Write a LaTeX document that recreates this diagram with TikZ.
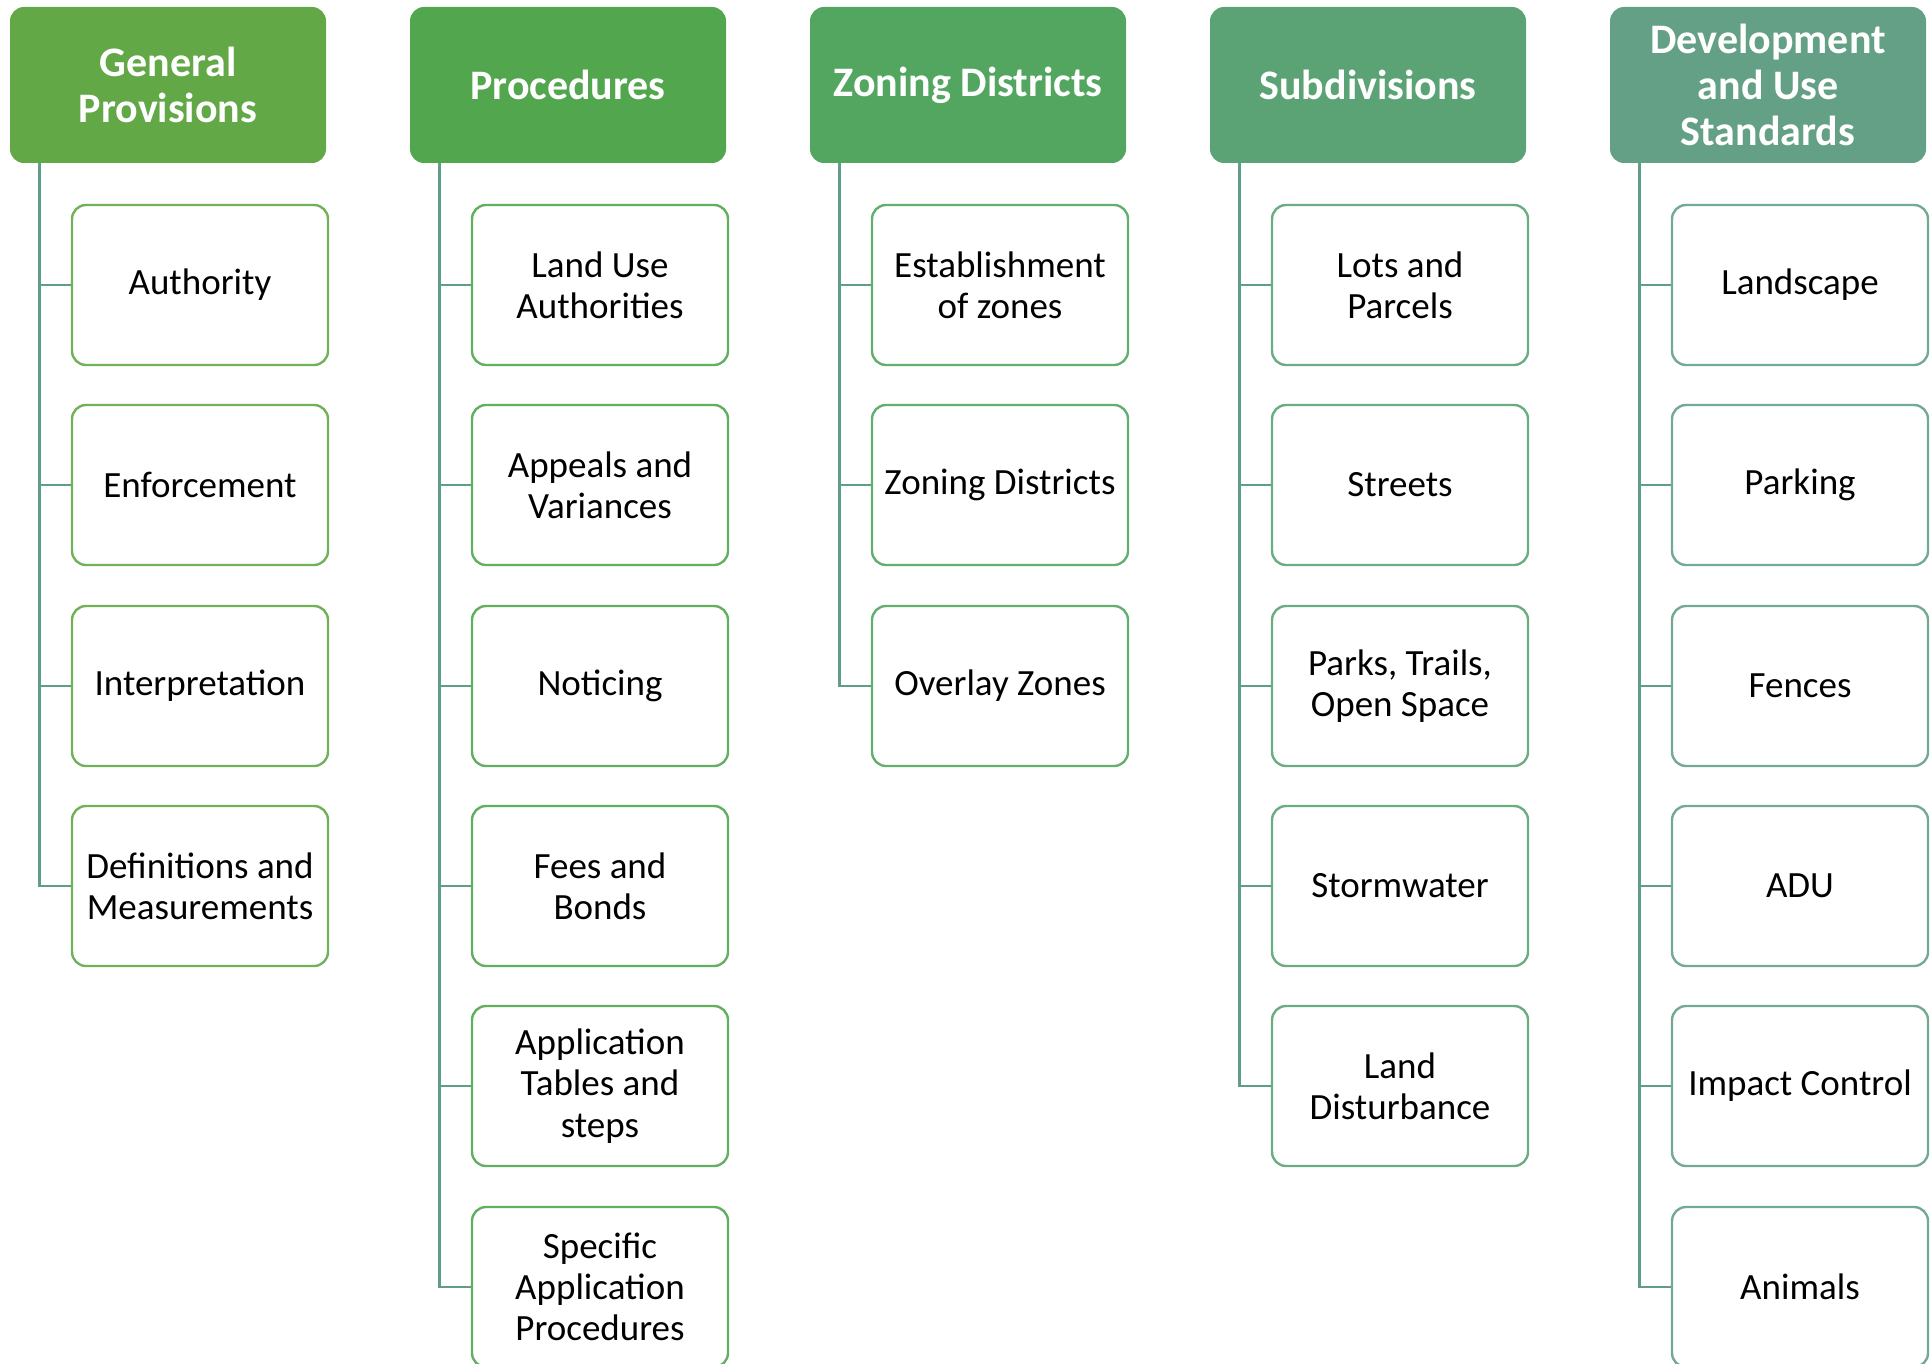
\documentclass[tikz,border=0pt]{standalone}
\usepackage{fontspec}
\setmainfont{Carlito}
\usetikzlibrary{positioning}
\definecolor{hijauA}{RGB}{98,168,70}
\definecolor{hijauB}{RGB}{82,166,78}
\definecolor{hijauC}{RGB}{83,166,96}
\definecolor{hijauD}{RGB}{91,163,116}
\definecolor{hijauE}{RGB}{99,160,133}
\definecolor{garis}{RGB}{94,158,136}

\begin{document}
\begin{tikzpicture}[x=0.5pt, y=-0.5pt,
        head/.style={rectangle, rounded corners=7pt, fill=#1, text=white,
                    minimum width=158pt, minimum height=78pt, align=center, inner sep=2pt,
                    font=\fontsize{21}{23}\selectfont\bfseries},
        item/.style={rectangle, rounded corners=7pt, draw=#1!90, line width=1.2pt, fill=white,
                    minimum width=128pt, minimum height=80pt, align=center, inner sep=2pt,
                    font=\fontsize{18.5}{20.6}\selectfont},
        link/.style={draw=garis, line width=1.3pt}
    ]
        \useasboundingbox (0,0) rectangle (1931,1364);

        % kolom 1
        \node[head=hijauA] (gp) at (168,85) {General\\Provisions};
        \node[item=hijauA] (gp1) at (200,285) {Authority};
        \node[item=hijauA] (gp2) at (200,485) {Enforcement};
        \node[item=hijauA] (gp3) at (200,686) {Interpretation};
        \node[item=hijauA] (gp4) at (200,886) {Definitions and\\Measurements};

        % kolom 2
        \node[head=hijauB] (pr) at (568,85) {Procedures};
        \node[item=hijauB] (pr1) at (600,285) {Land Use\\Authorities};
        \node[item=hijauB] (pr2) at (600,485) {Appeals and\\Variances};
        \node[item=hijauB] (pr3) at (600,686) {Noticing};
        \node[item=hijauB] (pr4) at (600,886) {Fees and\\Bonds};
        \node[item=hijauB] (pr5) at (600,1086) {Application\\Tables and\\steps};
        \node[item=hijauB] (pr6) at (600,1287) {Specific\\Application\\Procedures};

        % kolom 3
        \node[head=hijauC] (zd) at (968,85) {Zoning Districts};
        \node[item=hijauC] (zd1) at (1000,285) {Establishment\\of zones};
        \node[item=hijauC] (zd2) at (1000,485) {Zoning Districts};
        \node[item=hijauC] (zd3) at (1000,686) {Overlay Zones};

        % kolom 4
        \node[head=hijauD] (sd) at (1368,85) {Subdivisions};
        \node[item=hijauD] (sd1) at (1400,285) {Lots and\\Parcels};
        \node[item=hijauD] (sd2) at (1400,485) {Streets};
        \node[item=hijauD] (sd3) at (1400,686) {Parks, Trails,\\Open Space};
        \node[item=hijauD] (sd4) at (1400,886) {Stormwater};
        \node[item=hijauD] (sd5) at (1400,1086) {Land\\Disturbance};

        % kolom 5
        \node[head=hijauE] (du) at (1768,85) {Development\\and Use\\Standards};
        \node[item=hijauE] (du1) at (1800,285) {Landscape};
        \node[item=hijauE] (du2) at (1800,485) {Parking};
        \node[item=hijauE] (du3) at (1800,686) {Fences};
        \node[item=hijauE] (du4) at (1800,886) {ADU};
        \node[item=hijauE] (du5) at (1800,1086) {Impact Control};
        \node[item=hijauE] (du6) at (1800,1287) {Animals};

        % garis penghubung
        \foreach \i in {1,...,4} \draw[link] ([xshift=15pt]gp.south west) |- (gp\i.west);
        \foreach \i in {1,...,6} \draw[link] ([xshift=15pt]pr.south west) |- (pr\i.west);
        \foreach \i in {1,...,3} \draw[link] ([xshift=15pt]zd.south west) |- (zd\i.west);
        \foreach \i in {1,...,5} \draw[link] ([xshift=15pt]sd.south west) |- (sd\i.west);
        \foreach \i in {1,...,6} \draw[link] ([xshift=15pt]du.south west) |- (du\i.west);
    \end{tikzpicture}
\end{document}
